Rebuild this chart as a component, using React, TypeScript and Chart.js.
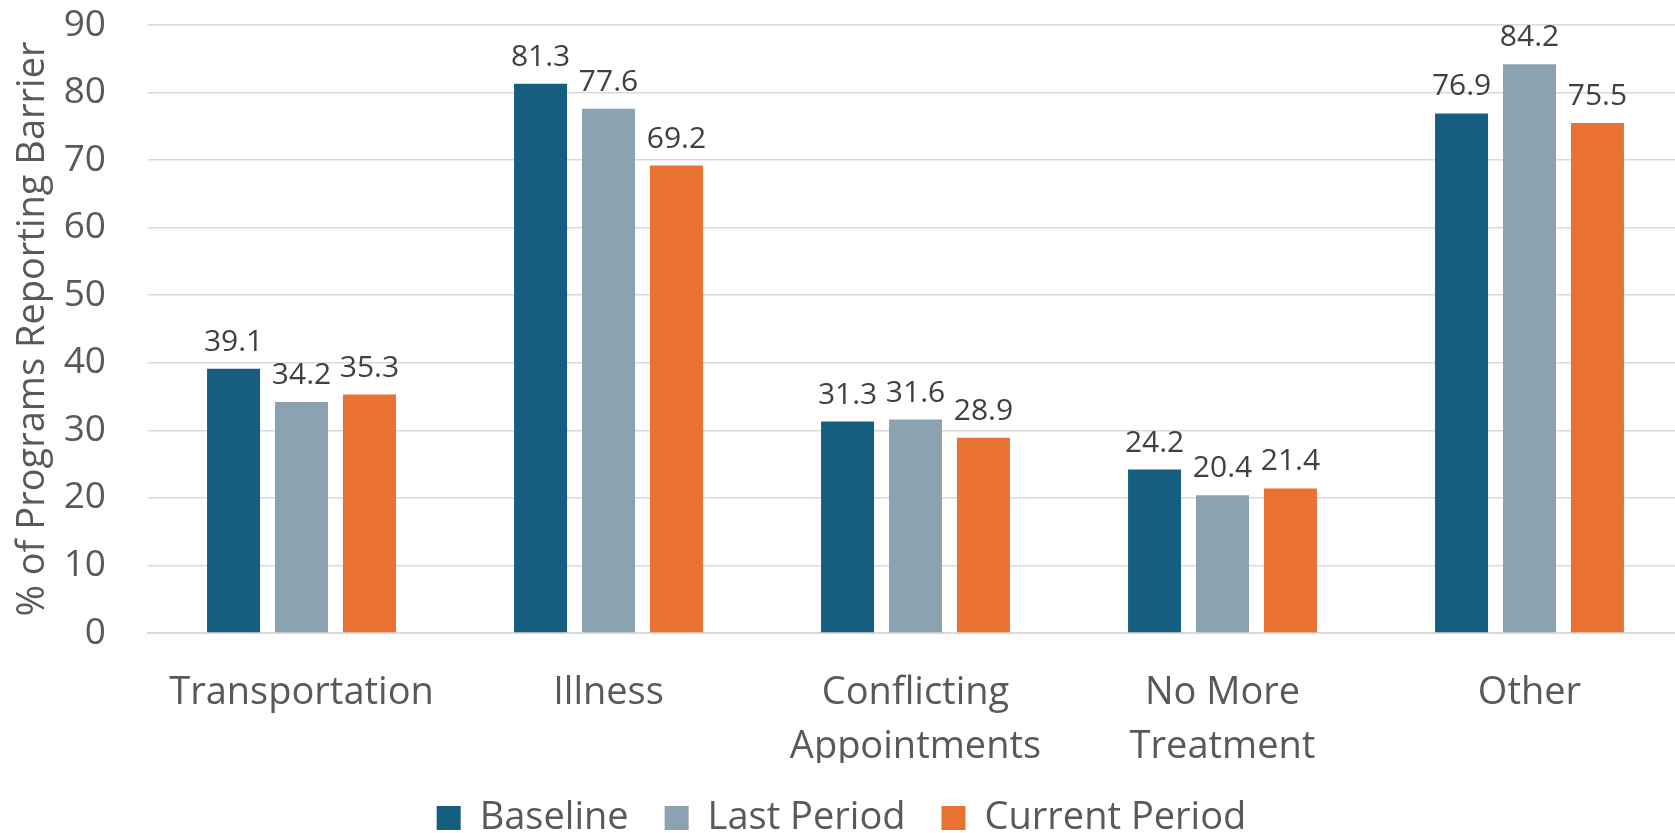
import React, { useEffect, useRef } from "react";
import { Chart, registerables } from "chart.js";

Chart.register(...registerables);

const categories: string[][] = [
  ["Transportation"],
  ["Illness"],
  ["Conflicting", "Appointments"],
  ["No More", "Treatment"],
  ["Other"],
];
const seriesNames = ["Baseline", "Last Period", "Current Period"];
const baseline = [39.1, 81.3, 31.3, 24.2, 76.9];
const lastPeriod = [34.2, 77.6, 31.6, 20.4, 84.2];
const currentPeriod = [35.3, 69.2, 28.9, 21.4, 75.5];
const colors = ["#165E80", "#8BA2B0", "#E97132"];
const yMin = 0;
const yMax = 90;
const yStep = 10;
const yTitle = "% of Programs Reporting Barrier";

const FONT = "'Open Sans', sans-serif";

const dataLabelPlugin = {
  id: "dataLabels",
  afterDatasetsDraw(chart: any) {
    const ctx = chart.ctx;
    ctx.save();
    ctx.font = `30px ${FONT}`;
    ctx.fillStyle = "#404040";
    ctx.textAlign = "center";
    ctx.textBaseline = "alphabetic";
    chart.data.datasets.forEach((ds: any, i: number) => {
      const meta = chart.getDatasetMeta(i);
      meta.data.forEach((el: any, j: number) => {
        ctx.fillText(Number(ds.data[j]).toFixed(1), el.x, el.y - 18);
      });
    });
    ctx.restore();
  },
};

const yTitlePlugin = {
  id: "yTitle",
  afterDraw(chart: any) {
    const ctx = chart.ctx;
    const area = chart.chartArea;
    ctx.save();
    ctx.font = `38px ${FONT}`;
    ctx.fillStyle = "#595959";
    ctx.textAlign = "center";
    ctx.textBaseline = "alphabetic";
    ctx.translate(44, (area.top + area.bottom) / 2);
    ctx.rotate(-Math.PI / 2);
    ctx.fillText(yTitle, 0, 0);
    ctx.restore();
  },
};

export default function App() {
  const ref = useRef<HTMLCanvasElement | null>(null);
  useEffect(() => {
    if (!ref.current) return;
    const chart = new Chart(ref.current, {
      type: "bar",
      data: {
        labels: categories,
        datasets: [baseline, lastPeriod, currentPeriod].map((d, i) => ({
          label: seriesNames[i],
          data: d,
          backgroundColor: colors[i],
          borderWidth: 0,
          categoryPercentage: 0.664,
          barPercentage: 0.78,
        })),
      },
      options: {
        responsive: false,
        animation: false,
        devicePixelRatio: 1,
        layout: { padding: { top: 25, right: 1, left: 0, bottom: -14 } },
        plugins: {
          legend: {
            position: "bottom",
            labels: {
              font: { family: FONT, size: 38 },
              color: "#595959",
              boxWidth: 24,
              boxHeight: 24,
              padding: 36,
            },
          },
          tooltip: { enabled: false },
        },
        scales: {
          x: {
            grid: { display: false, drawTicks: false },
            border: { color: "#D9D9D9", width: 2 },
            ticks: {
              font: { family: FONT, size: 38, lineHeight: 1.4 },
              color: "#595959",
              padding: 34,
              maxRotation: 0,
              autoSkip: false,
            },
            afterFit: (s: any) => {
              s.height = 130;
            },
          },
          y: {
            min: yMin,
            max: yMax,
            grid: {
              color: "#D9D9D9",
              lineWidth: 1.5,
              drawTicks: true,
              tickLength: 42,
              tickColor: "rgba(0,0,0,0)",
            },
            border: { display: false },
            ticks: {
              stepSize: yStep,
              font: { family: FONT, size: 37 },
              color: "#595959",
              padding: 0,
            },
            title: { display: false },
            afterFit: (s: any) => {
              s.width = 148;
            },
          },
        },
      },
      plugins: [dataLabelPlugin, yTitlePlugin],
    });
    return () => chart.destroy();
  }, []);
  return (
    <div
      style={{
        position: "fixed",
        left: 0,
        top: 0,
        width: 1675,
        height: 833,
        overflow: "hidden",
        background: "#fff",
      }}
    >
      <canvas ref={ref} width={1684} height={833} style={{ display: "block" }} />
    </div>
  );
}
